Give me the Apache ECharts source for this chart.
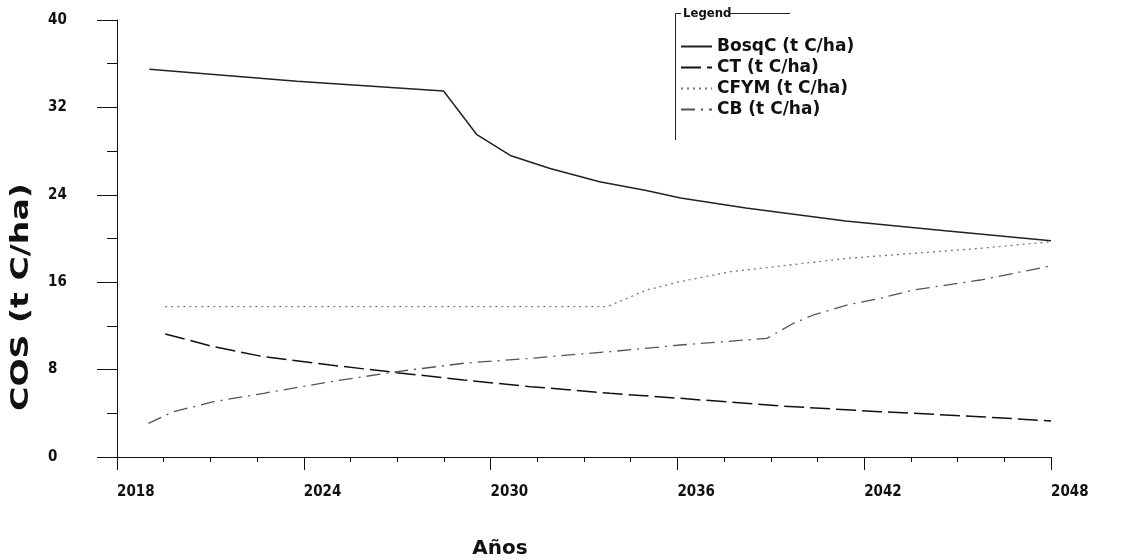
<!DOCTYPE html>
<html>
<head>
<meta charset="utf-8">
<script src="https://cdn.jsdelivr.net/npm/echarts@6/dist/echarts.min.js"></script>
<style>
html,body{margin:0;padding:0;background:#fff;}
#c{width:1131px;height:560px;}
</style>
</head>
<body>
<div id="c"></div>
<script>
// ---- data ----
const seriesNames = ['BosqC (t C/ha)', 'CT (t C/ha)', 'CFYM (t C/ha)', 'CB (t C/ha)'];

const bosqYears  = [2019.04, 2023.78, 2028.49, 2029.56, 2030.63, 2031.91, 2033.5, 2035.0, 2036.1, 2038.2, 2041.4, 2044.6, 2048];
const bosqValues = [35.5, 34.4, 33.5, 29.5, 27.6, 26.4, 25.2, 24.4, 23.7, 22.8, 21.6, 20.7, 19.8];

const ctYears  = [2019.55, 2021.10, 2022.71, 2024.85, 2026.99, 2029.13, 2031.27, 2033.84, 2036.09, 2039.30, 2042.51, 2045.72, 2048];
const ctValues = [11.26, 10.10, 9.18, 8.42, 7.72, 7.05, 6.44, 5.83, 5.37, 4.67, 4.15, 3.69, 3.3];

const cfymYears  = [2019.55, 2033.74, 2035.02, 2036.09, 2037.70, 2039.31, 2041.44, 2043.58, 2045.72, 2048];
const cfymValues = [13.76, 13.76, 15.29, 16.05, 16.96, 17.48, 18.18, 18.64, 19.10, 19.7];

const cbYears  = [2019.01, 2019.82, 2021.10, 2022.71, 2024.85, 2026.99, 2029.13, 2031.27, 2032.88, 2033.84, 2036.09, 2038.87, 2039.73, 2040.37, 2041.44, 2042.51, 2043.58, 2044.65, 2045.73, 2046.79, 2048];
const cbValues = [3.08, 4.15, 5.06, 5.83, 6.89, 7.81, 8.58, 9.03, 9.43, 9.64, 10.25, 10.86, 12.24, 13.0, 13.91, 14.52, 15.29, 15.74, 16.2, 16.81, 17.5];

const xTickYears = [2018, 2024, 2030, 2036, 2042, 2048];
const yTicks = [0, 8, 16, 24, 32, 40];

const xTitle = 'Años';
const yTitle = 'COS (t C/ha)';
const legendTitle = 'Legend';

function pairs(xs, ys) { return xs.map((x, i) => [x, ys[i]]); }

const narrow = "'Liberation Sans Narrow', 'DejaVu Sans Condensed', 'Liberation Sans', sans-serif";
const wide = "'DejaVu Sans', sans-serif";

const chart = echarts.init(document.getElementById('c'), null, {renderer: 'canvas'});

const option = {
  backgroundColor: '#ffffff',
  animation: false,
  grid: {left: 117, right: 80, top: 20, bottom: 103, containLabel: false},
  legend: {
    show: true,
    orient: 'vertical',
    left: 680,
    top: 38,
    padding: 0,
    itemGap: 4,
    itemWidth: 31,
    itemHeight: 14,
    data: seriesNames,
    itemStyle: {opacity: 0, borderWidth: 0},
    textStyle: {fontFamily: wide, fontWeight: 'bold', fontSize: 17, color: '#111', lineHeight: 16.5}
  },
  xAxis: {
    type: 'value',
    min: xTickYears[0],
    max: xTickYears[xTickYears.length - 1],
    interval: 6,
    axisLine: {show: true, onZero: false, lineStyle: {color: '#111', width: 1}},
    axisTick: {show: true, length: 13, lineStyle: {color: '#111'}},
    minorTick: {show: true, splitNumber: 4, length: 5, lineStyle: {color: '#111'}},
    splitLine: {show: false},
    axisLabel: {
      show: true, margin: 28, align: 'left',
      fontFamily: narrow, fontWeight: 'bold', fontSize: 15, color: '#111',
      formatter: v => String(v)
    }
  },
  yAxis: {
    type: 'value',
    min: yTicks[0],
    max: yTicks[yTicks.length - 1],
    interval: 8,
    axisLine: {show: true, onZero: false, lineStyle: {color: '#111', width: 1}},
    axisTick: {show: true, length: 20, lineStyle: {color: '#111'}},
    minorTick: {show: true, splitNumber: 2, length: 10, lineStyle: {color: '#111'}},
    splitLine: {show: false},
    axisLabel: {
      show: true, margin: 69, align: 'left', verticalAlign: 'middle',
      padding: [0, 0, 8, 0],
      fontFamily: narrow, fontWeight: 'bold', fontSize: 15, color: '#111',
      formatter: v => String(v)
    }
  },
  graphic: [
    // legend frame
    {type: 'line', silent: true, shape: {x1: 675.5, y1: 13.5, x2: 675.5, y2: 140}, style: {stroke: '#222', lineWidth: 1}},
    {type: 'line', silent: true, shape: {x1: 675.5, y1: 13.5, x2: 681, y2: 13.5}, style: {stroke: '#222', lineWidth: 1}},
    {type: 'line', silent: true, shape: {x1: 729, y1: 13.5, x2: 790, y2: 13.5}, style: {stroke: '#222', lineWidth: 1}},
    {type: 'text', silent: true, x: 683, y: 14,
      style: {text: legendTitle, font: "bold 13px " + narrow, fill: '#111', textAlign: 'left', textVerticalAlign: 'middle'}},
    // axis titles
    {type: 'text', silent: true, x: 500, y: 549,
      style: {text: xTitle, font: "bold 20px " + wide, fill: '#111', textAlign: 'center', textVerticalAlign: 'middle'}},
    {type: 'text', silent: true, x: 22, y: 297, rotation: Math.PI / 2, scaleX: 1.38,
      style: {text: yTitle, font: "bold 24px " + wide, fill: '#111', textAlign: 'center', textVerticalAlign: 'middle'}}
  ],
  series: [
    {name: seriesNames[0], type: 'line', symbol: 'none', data: pairs(bosqYears, bosqValues),
      lineStyle: {color: '#222', width: 1.5, type: 'solid'}, itemStyle: {color: '#222'}},
    {name: seriesNames[1], type: 'line', symbol: 'none', data: pairs(ctYears, ctValues),
      lineStyle: {color: '#111', width: 1.5, type: [20, 6]}, itemStyle: {color: '#111'}},
    {name: seriesNames[2], type: 'line', symbol: 'none', data: pairs(cfymYears, cfymValues),
      lineStyle: {color: '#777', width: 1.3, type: [2, 4]}, itemStyle: {color: '#777'}},
    {name: seriesNames[3], type: 'line', symbol: 'none', data: pairs(cbYears, cbValues),
      lineStyle: {color: '#555', width: 1.3, type: [14, 6, 2, 6]}, itemStyle: {color: '#555'}}
  ]
};
chart.setOption(option);
</script>
</body>
</html>
